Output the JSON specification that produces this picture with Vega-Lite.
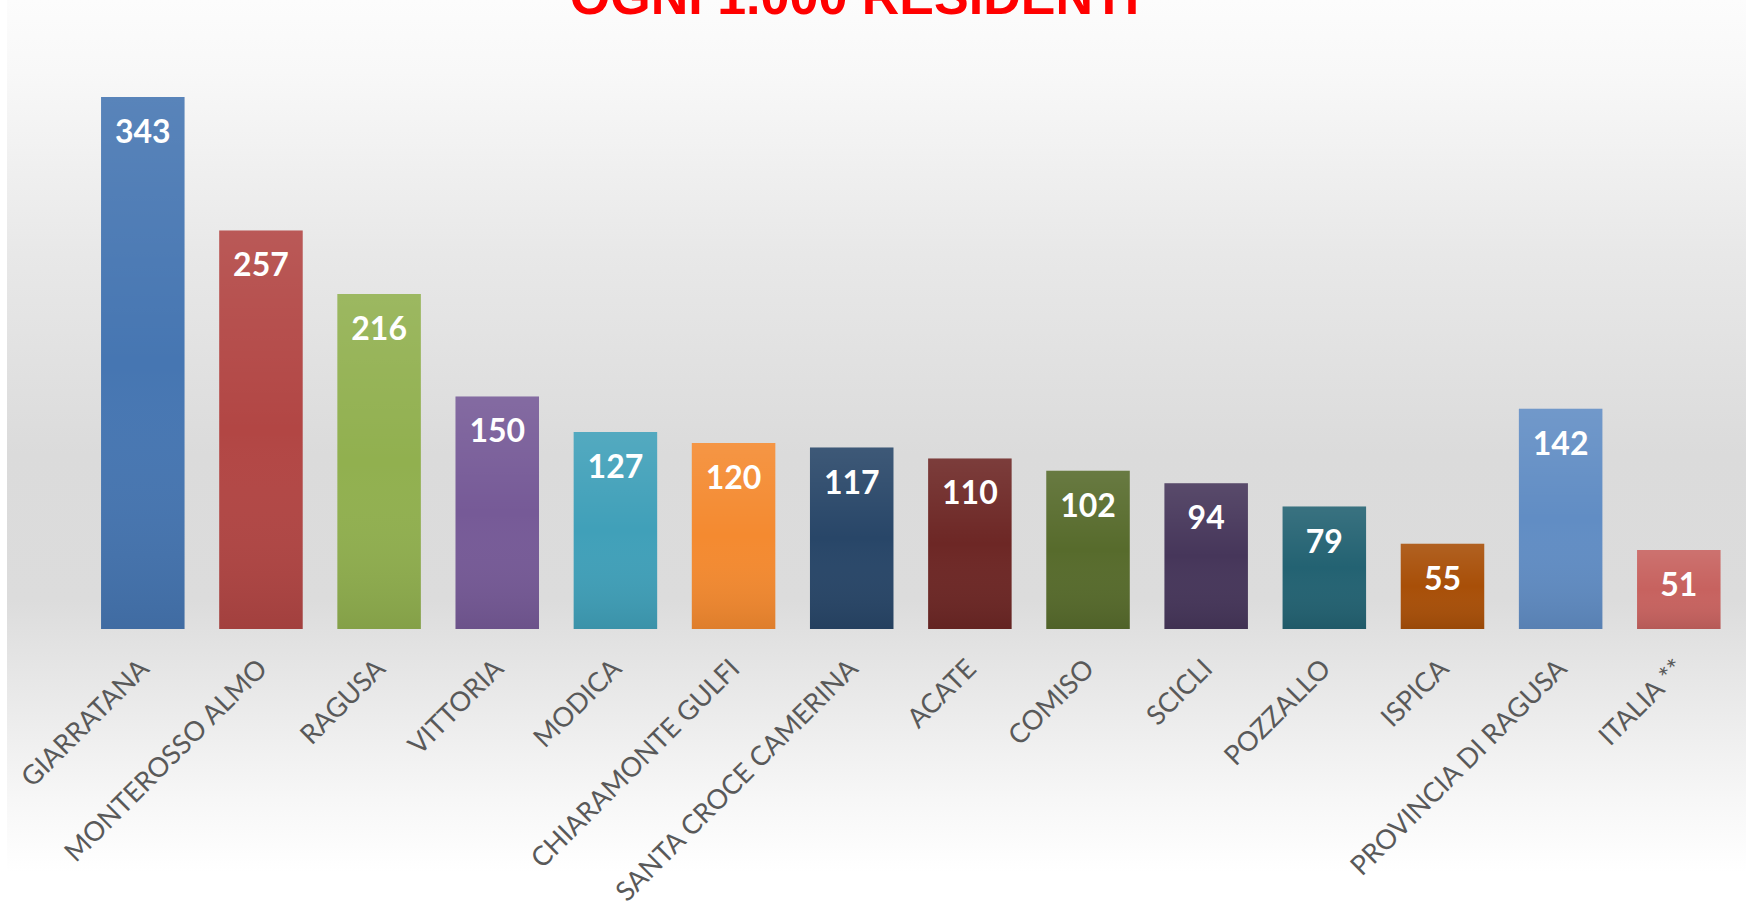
{
  "$schema": "https://vega.github.io/schema/vega-lite/v6.json",
  "width": 1739,
  "height": 909,
  "autosize": "none",
  "padding": {"left": 7, "top": 0, "right": 0, "bottom": 0},
  "background": "#ffffff",
  "title": {
    "text": "OGNI 1.000 RESIDENTI",
    "color": "#ff0000",
    "font": "Liberation Sans",
    "fontWeight": "bold",
    "fontSize": 52,
    "anchor": "middle",
    "frame": "group",
    "dx": -22,
    "offset": -25
  },
  "config": {
    "view": {
      "stroke": null,
      "fill": {
        "gradient": "linear",
        "x1": 0, "y1": 0, "x2": 0, "y2": 1,
        "stops": [
          {"offset": 0, "color": "#fcfcfc"},
          {"offset": 0.08, "color": "#f8f8f8"},
          {"offset": 0.28, "color": "#e8e8e8"},
          {"offset": 0.5, "color": "#dbdbdb"},
          {"offset": 0.66, "color": "#dcdcdc"},
          {"offset": 0.74, "color": "#e6e6e6"},
          {"offset": 0.88, "color": "#f7f7f7"},
          {"offset": 0.96, "color": "#ffffff"},
          {"offset": 1, "color": "#ffffff"}
        ]
      }
    }
  },
  "data": {
    "values": [
      {"comune": "GIARRATANA", "valore": 343},
      {"comune": "MONTEROSSO ALMO", "valore": 257},
      {"comune": "RAGUSA", "valore": 216},
      {"comune": "VITTORIA", "valore": 150},
      {"comune": "MODICA", "valore": 127},
      {"comune": "CHIARAMONTE GULFI", "valore": 120},
      {"comune": "SANTA CROCE CAMERINA", "valore": 117},
      {"comune": "ACATE", "valore": 110},
      {"comune": "COMISO", "valore": 102},
      {"comune": "SCICLI", "valore": 94},
      {"comune": "POZZALLO", "valore": 79},
      {"comune": "ISPICA", "valore": 55},
      {"comune": "PROVINCIA DI RAGUSA", "valore": 142},
      {"comune": "ITALIA **", "valore": 51}
    ]
  },
  "encoding": {
    "x": {
      "field": "comune",
      "type": "nominal",
      "sort": null,
      "scale": {"paddingInner": 0.2933, "paddingOuter": 0.5057, "align": 0.787},
      "axis": {
        "title": null,
        "domain": false,
        "ticks": false,
        "labelAngle": -45,
        "labelFont": "Lato",
        "labelFontSize": 27,
        "labelColor": "#595959",
        "labelPadding": 26,
        "labelOffset": -7,
        "offset": -280,
        "labelLimit": 0
      }
    },
    "y": {
      "field": "valore",
      "type": "quantitative",
      "scale": {"domain": [-180.5, 405.6], "nice": false, "zero": false},
      "axis": null
    }
  },
  "layer": [
    {
      "mark": {"type": "bar"},
      "encoding": {
        "color": {
          "field": "comune",
          "type": "nominal",
          "legend": null,
          "scale": {
            "domain": ["GIARRATANA", "MONTEROSSO ALMO", "RAGUSA", "VITTORIA", "MODICA", "CHIARAMONTE GULFI", "SANTA CROCE CAMERINA", "ACATE", "COMISO", "SCICLI", "POZZALLO", "ISPICA", "PROVINCIA DI RAGUSA", "ITALIA **"],
            "range": ["#4676b2", "#b24644", "#91b04f", "#765a97", "#40a0b9", "#f48a30", "#284668", "#6d2725", "#576b2c", "#46365a", "#236272", "#a84f08", "#618dc4", "#c7625f"]
          }
        }
      }
    },
    {
      "mark": {
        "type": "bar",
        "fill": {
          "gradient": "linear",
          "x1": 0, "y1": 0, "x2": 0, "y2": 1,
          "stops": [
            {"offset": 0, "color": "rgba(255,255,255,0.1)"},
            {"offset": 0.5, "color": "rgba(255,255,255,0)"},
            {"offset": 1, "color": "rgba(0,0,0,0.09)"}
          ]
        }
      }
    },
    {
      "mark": {
        "type": "text",
        "color": "#ffffff",
        "font": "Lato",
        "fontWeight": "bold",
        "fontSize": 32,
        "baseline": "middle",
        "align": "center",
        "dy": 36
      },
      "encoding": {
        "text": {"field": "valore", "type": "quantitative"}
      }
    }
  ]
}
